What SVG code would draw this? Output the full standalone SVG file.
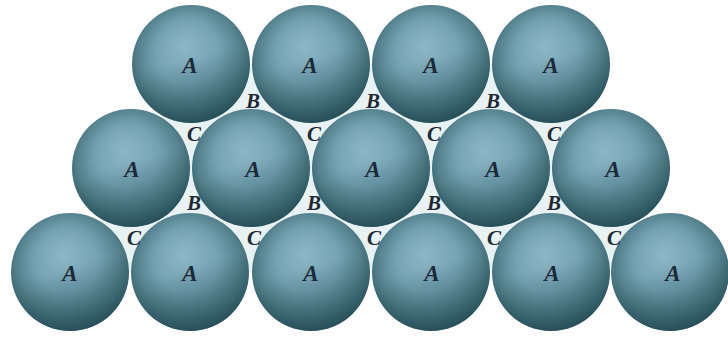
<svg xmlns="http://www.w3.org/2000/svg" width="728" height="338" viewBox="0 0 728 338">
  <defs>
    <radialGradient id="ball" cx="50%" cy="46%" r="54%" fx="44%" fy="34%">
      <stop offset="0" stop-color="#8cb6c5"/>
      <stop offset="0.5" stop-color="#75a2b2"/>
      <stop offset="0.8" stop-color="#56838f"/>
      <stop offset="1" stop-color="#3a6571"/>
    </radialGradient>
    <linearGradient id="shade" x1="0.2" y1="0" x2="0.5" y2="1">
      <stop offset="0.5" stop-color="#143a44" stop-opacity="0"/>
      <stop offset="1" stop-color="#143a44" stop-opacity="0.5"/>
    </linearGradient>
    <circle id="sphere" r="59" fill="url(#ball)"/>
  </defs>
  <style>
    .a { font-family: "Liberation Serif", "DejaVu Serif", serif; font-style: italic; font-weight: bold; font-size: 23px; fill: #1b2a3a; text-anchor: middle; }
    .gap { font-family: "Liberation Serif", "DejaVu Serif", serif; font-style: italic; font-weight: bold; font-size: 21px; fill: #1e2a36; text-anchor: middle; }
    .tint { fill: #e8f2f3; }
  </style>

  <rect width="728" height="338" fill="#ffffff"/>

  <!-- pale tint showing through the interstices -->
  <g id="interstices" class="tint">
    <polygon points="191,64 311,64 251,168"/>
    <polygon points="311,64 431,64 371,168"/>
    <polygon points="431,64 551,64 491,168"/>
    <polygon points="131,168 251,168 191,64"/>
    <polygon points="251,168 371,168 311,64"/>
    <polygon points="371,168 491,168 431,64"/>
    <polygon points="491,168 611,168 551,64"/>
    <polygon points="131,168 251,168 191,272"/>
    <polygon points="251,168 371,168 311,272"/>
    <polygon points="371,168 491,168 431,272"/>
    <polygon points="491,168 611,168 551,272"/>
    <polygon points="71,272 191,272 131,168"/>
    <polygon points="191,272 311,272 251,168"/>
    <polygon points="311,272 431,272 371,168"/>
    <polygon points="431,272 551,272 491,168"/>
    <polygon points="551,272 671,272 611,168"/>
  </g>

  <!-- top layer -->
  <g id="a-top-1"><use href="#sphere" x="191" y="64"/><circle cx="191" cy="64" r="59" fill="url(#shade)"/><text class="a" x="190" y="73">A</text></g>
  <g id="a-top-2"><use href="#sphere" x="311" y="64"/><circle cx="311" cy="64" r="59" fill="url(#shade)"/><text class="a" x="310" y="73">A</text></g>
  <g id="a-top-3"><use href="#sphere" x="431" y="64"/><circle cx="431" cy="64" r="59" fill="url(#shade)"/><text class="a" x="431" y="73">A</text></g>
  <g id="a-top-4"><use href="#sphere" x="551" y="64"/><circle cx="551" cy="64" r="59" fill="url(#shade)"/><text class="a" x="551" y="73">A</text></g>

  <!-- middle layer -->
  <g id="a-mid-1"><use href="#sphere" x="131" y="168"/><circle cx="131" cy="168" r="59" fill="url(#shade)"/><text class="a" x="132" y="177">A</text></g>
  <g id="a-mid-2"><use href="#sphere" x="251" y="168"/><circle cx="251" cy="168" r="59" fill="url(#shade)"/><text class="a" x="253" y="177">A</text></g>
  <g id="a-mid-3"><use href="#sphere" x="371" y="168"/><circle cx="371" cy="168" r="59" fill="url(#shade)"/><text class="a" x="373" y="177">A</text></g>
  <g id="a-mid-4"><use href="#sphere" x="491" y="168"/><circle cx="491" cy="168" r="59" fill="url(#shade)"/><text class="a" x="493" y="177">A</text></g>
  <g id="a-mid-5"><use href="#sphere" x="611" y="168"/><circle cx="611" cy="168" r="59" fill="url(#shade)"/><text class="a" x="613" y="177">A</text></g>

  <!-- bottom layer -->
  <g id="a-bot-1"><use href="#sphere" x="70" y="272"/><circle cx="70" cy="272" r="59" fill="url(#shade)"/><text class="a" x="70" y="281">A</text></g>
  <g id="a-bot-2"><use href="#sphere" x="190" y="272"/><circle cx="190" cy="272" r="59" fill="url(#shade)"/><text class="a" x="190" y="281">A</text></g>
  <g id="a-bot-3"><use href="#sphere" x="311" y="272"/><circle cx="311" cy="272" r="59" fill="url(#shade)"/><text class="a" x="311" y="281">A</text></g>
  <g id="a-bot-4"><use href="#sphere" x="431" y="272"/><circle cx="431" cy="272" r="59" fill="url(#shade)"/><text class="a" x="432" y="281">A</text></g>
  <g id="a-bot-5"><use href="#sphere" x="551" y="272"/><circle cx="551" cy="272" r="59" fill="url(#shade)"/><text class="a" x="552" y="281">A</text></g>
  <g id="a-bot-6"><use href="#sphere" x="670" y="272"/><circle cx="670" cy="272" r="59" fill="url(#shade)"/><text class="a" x="673" y="281">A</text></g>

  <!-- site labels in the hollows -->
  <g id="sites-b">
    <text class="gap" x="253" y="108">B</text>
    <text class="gap" x="373" y="108">B</text>
    <text class="gap" x="493" y="108">B</text>
    <text class="gap" x="194" y="210">B</text>
    <text class="gap" x="314" y="210">B</text>
    <text class="gap" x="434" y="210">B</text>
    <text class="gap" x="554" y="210">B</text>
  </g>
  <g id="sites-c">
    <text class="gap" x="194" y="141">C</text>
    <text class="gap" x="314" y="141">C</text>
    <text class="gap" x="434" y="141">C</text>
    <text class="gap" x="554" y="141">C</text>
    <text class="gap" x="134" y="245">C</text>
    <text class="gap" x="254" y="245">C</text>
    <text class="gap" x="374" y="245">C</text>
    <text class="gap" x="494" y="245">C</text>
    <text class="gap" x="614" y="245">C</text>
  </g>
</svg>
